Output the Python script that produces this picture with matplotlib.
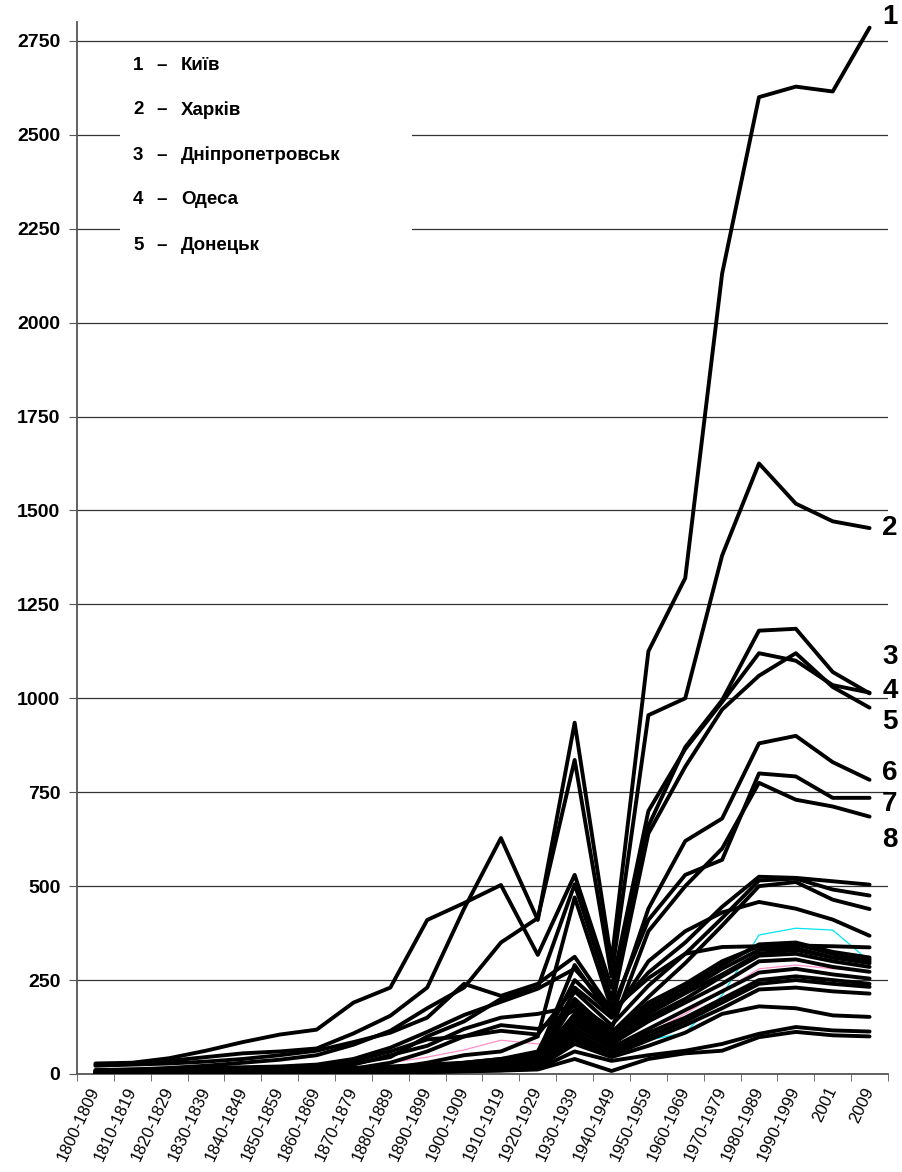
import matplotlib
matplotlib.use("Agg")
import matplotlib.pyplot as plt
from matplotlib.patches import Rectangle

plt.rcParams['font.family'] = ['Liberation Sans', 'DejaVu Sans']

cats = ['1800-1809', '1810-1819', '1820-1829', '1830-1839', '1840-1849', '1850-1859',
        '1860-1869', '1870-1879', '1880-1889', '1890-1899', '1900-1909', '1910-1919',
        '1920-1929', '1930-1939', '1940-1949', '1950-1959', '1960-1969', '1970-1979',
        '1980-1989', '1990-1999', '2001', '2009']

# population, thousands
kyiv    = [25, 28, 35, 45, 55, 60, 68, 108, 155, 230, 440, 628, 410, 935, 300, 1125, 1320, 2130, 2600, 2628, 2615, 2785]
kharkiv = [10, 12, 16, 22, 30, 38, 50, 78, 115, 175, 230, 350, 415, 836, 260, 955, 1000, 1380, 1625, 1518, 1471, 1453]
dnipro  = [5, 6, 8, 10, 12, 15, 20, 28, 45, 100, 140, 200, 230, 505, 200, 660, 870, 995, 1180, 1185, 1070, 1013]
odesa   = [28, 30, 42, 62, 85, 105, 118, 190, 230, 410, 455, 503, 317, 530, 230, 700, 865, 990, 1120, 1100, 1035, 1015]
donetsk = [0, 0, 0, 1, 2, 3, 4, 6, 15, 30, 50, 60, 100, 470, 175, 640, 818, 970, 1060, 1120, 1030, 975]
zapor   = [3, 4, 5, 6, 8, 10, 12, 15, 18, 20, 30, 40, 50, 290, 150, 440, 620, 680, 880, 900, 830, 783]
lviv    = [22, 25, 28, 33, 40, 50, 62, 85, 110, 150, 240, 208, 240, 312, 170, 410, 530, 570, 800, 792, 735, 735]
kryvyi  = [1, 1, 2, 2, 3, 3, 4, 5, 7, 10, 14, 20, 35, 190, 120, 380, 500, 600, 775, 730, 712, 685]

c09 = [10, 12, 14, 16, 18, 20, 25, 40, 70, 112, 157, 192, 227, 280, 170, 255, 320, 338, 340, 342, 340, 337]
c10 = [5, 6, 7, 8, 10, 12, 14, 16, 20, 25, 30, 40, 60, 250, 160, 270, 350, 445, 525, 522, 513, 504]
c11 = [3, 4, 5, 6, 8, 10, 12, 14, 18, 22, 28, 35, 50, 220, 130, 235, 320, 415, 515, 520, 491, 475]
c12 = [2, 3, 4, 5, 6, 8, 10, 12, 15, 20, 25, 30, 45, 200, 110, 205, 295, 395, 500, 511, 464, 439]
c13 = [8, 9, 10, 12, 14, 16, 18, 35, 60, 92, 100, 115, 105, 230, 150, 300, 380, 430, 458, 440, 411, 368]
c14 = [6, 7, 8, 9, 10, 12, 14, 25, 50, 75, 120, 150, 160, 180, 110, 190, 240, 300, 340, 345, 320, 305]
c15 = [4, 5, 6, 7, 8, 9, 10, 12, 15, 20, 25, 30, 40, 160, 90, 170, 220, 280, 330, 335, 310, 295]
c16 = [3, 4, 5, 6, 7, 8, 9, 11, 14, 18, 22, 28, 36, 150, 85, 150, 200, 260, 315, 320, 300, 285]
c17 = [2, 3, 4, 5, 6, 7, 8, 10, 12, 16, 20, 25, 32, 130, 80, 140, 190, 240, 300, 305, 285, 272]
c18 = [2, 2, 3, 4, 5, 6, 7, 9, 11, 14, 18, 22, 30, 120, 70, 120, 170, 220, 270, 280, 265, 254]
c19 = [1, 2, 3, 3, 4, 5, 6, 8, 10, 12, 15, 20, 28, 110, 60, 110, 150, 200, 250, 260, 250, 240]
c20 = [1, 1, 2, 2, 3, 4, 5, 7, 9, 11, 14, 18, 25, 100, 55, 100, 140, 190, 240, 250, 240, 232]
c21 = [0, 1, 1, 2, 2, 3, 4, 6, 8, 10, 12, 16, 22, 90, 50, 90, 130, 175, 225, 230, 220, 214]
c22 = [0, 0, 1, 1, 2, 2, 3, 4, 6, 8, 10, 13, 18, 80, 45, 75, 110, 160, 180, 175, 156, 152]
c23 = [0, 0, 0, 1, 1, 2, 2, 3, 5, 6, 8, 10, 14, 60, 35, 50, 62, 80, 107, 125, 116, 113]
c24 = [0, 0, 0, 0, 1, 1, 2, 3, 4, 5, 7, 9, 12, 40, 8, 40, 55, 62, 98, 112, 103, 100]
c25 = [5, 6, 7, 8, 9, 10, 12, 14, 30, 60, 100, 130, 120, 170, 100, 180, 230, 290, 345, 350, 325, 310]
c26 = [3, 4, 5, 5, 6, 7, 8, 10, 13, 17, 21, 27, 38, 140, 75, 160, 215, 265, 320, 330, 310, 300]

cyan = [3, 4, 5, 6, 7, 8, 9, 11, 14, 18, 22, 28, 35, 86, 65, 90, 110, 210, 370, 388, 383, 300]
pink = [2, 3, 4, 5, 6, 8, 10, 14, 30, 45, 64, 90, 80, 95, 70, 110, 160, 220, 280, 290, 280, 275]

black_series = [kyiv, kharkiv, dnipro, odesa, donetsk, zapor, lviv, kryvyi,
                c09, c10, c11, c12, c13, c14, c15, c16, c17, c18, c19, c20,
                c21, c22, c23, c24, c25, c26]

legend_rows = [('1', 'Київ'), ('2', 'Харків'), ('3', 'Дніпропетровськ'),
               ('4', 'Одеса'), ('5', 'Донецьк')]
end_labels = ['1', '2', '3', '4', '5', '6', '7', '8']
end_label_y = [2812, 1454, 1110, 1020, 937, 801, 718, 622]

W, H = 903, 1172
fig = plt.figure(figsize=(W / 100, H / 100), dpi=100)
ax = fig.add_axes([77 / W, 1 - 1074 / H, (888 - 77) / W, (1074 - 22) / H])

x = list(range(len(cats)))
ax.plot(x, cyan, color='#00e5ee', lw=0.9, zorder=2)
ax.plot(x, pink, color='#ff8fc8', lw=0.9, zorder=2)
for s in black_series:
    ax.plot(x, s, color='black', lw=2.8, solid_joinstyle='round',
            solid_capstyle='round', zorder=3)

ax.set_xlim(-0.5, 21.5)
ax.set_ylim(0, 2800)
ax.set_yticks(range(0, 2751, 250))
ax.yaxis.grid(True, color='#333333', lw=0.9)
ax.set_axisbelow(True)
for sp in ['top', 'right']:
    ax.spines[sp].set_visible(False)
for sp in ['left', 'bottom']:
    ax.spines[sp].set_color('#555555')
    ax.spines[sp].set_linewidth(1.3)

ax.set_xticks(x)
ax.set_xticklabels(cats, rotation=65, ha='right', va='center',
                   rotation_mode='anchor', fontsize=12)
ax.set_xticks([i - 0.5 for i in range(len(cats) + 1)], minor=True)
ax.tick_params(axis='x', which='major', length=0, pad=10)
ax.tick_params(axis='x', which='minor', length=5, direction='out', color='#555555')
ax.tick_params(axis='y', length=6, direction='out', color='#555555', pad=6)
for t in ax.get_yticklabels():
    t.set_fontsize(14)
    t.set_fontweight('bold')

for lab, yv in zip(end_labels, end_label_y):
    ax.text(21.55, yv, lab, fontsize=20, fontweight='bold', ha='center',
            va='center', clip_on=False, zorder=5)

# legend box covering the grid
fig.patches.append(Rectangle((120 / W, 1 - 305 / H), (412 - 120) / W, (305 - 46) / H,
                             transform=fig.transFigure, facecolor='white',
                             edgecolor='none', zorder=1))
for k, (num, name) in enumerate(legend_rows):
    yy = 1 - (65 + 45 * k) / H
    fig.text(133 / W, yy, num, fontsize=13.5, fontweight='bold', va='center', zorder=2)
    fig.text(162 / W, yy, '–', fontsize=13.5, fontweight='bold', va='center', ha='center', zorder=2)
    fig.text(181 / W, yy, name, fontsize=13.5, fontweight='bold', va='center', zorder=2)

fig.savefig('out.png', dpi=100)
